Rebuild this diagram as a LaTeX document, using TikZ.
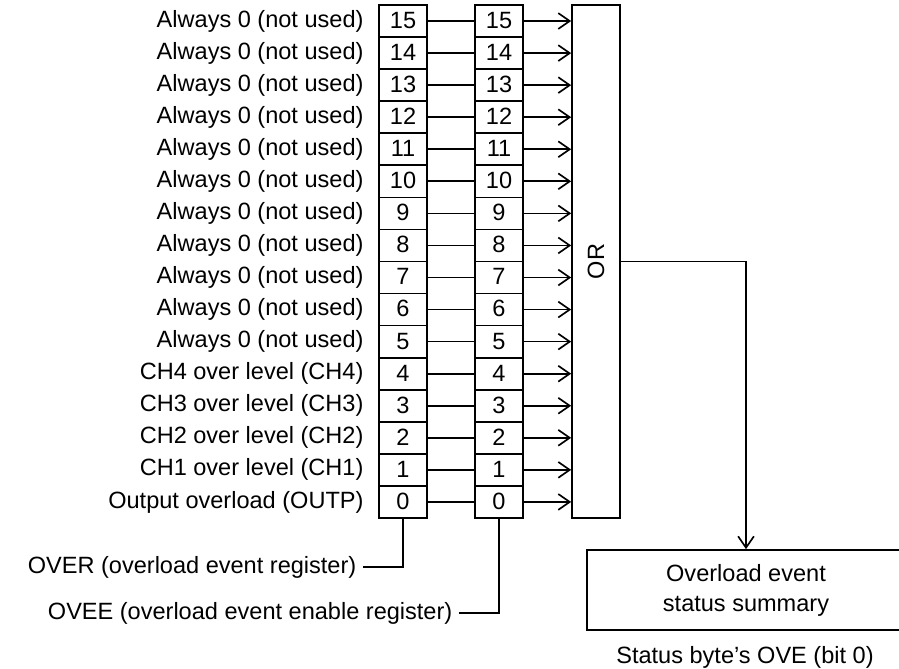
\documentclass[tikz,border=0pt]{standalone}
\usepackage{fontspec}
\setmainfont{Liberation Sans}
\usepackage{tikz}
\usetikzlibrary{arrows.meta,positioning}

\begin{document}
\begin{tikzpicture}[x=0.02cm,y=-0.02cm,line width=0.95pt,
  >={Straight Barb[length=6.5pt,width=9pt,line width=0.95pt]},
  every node/.style={font=\fontsize{13.4}{17}\selectfont},
  bitbox/.style={draw,minimum width=0.96cm,minimum height=0.6412cm,inner sep=0pt,text height=1.6ex,text depth=0pt},
  lbl/.style={anchor=east}]
\clip(0,0)rectangle(899,669);
\node[draw,minimum width=0.96cm,minimum height=10.26cm,label={[rotate=90]center:OR}](orbox)at(596,261.5){};
\foreach \i/\t in {15/Always 0 (not used),14/Always 0 (not used),13/Always 0 (not used),
  12/Always 0 (not used),11/Always 0 (not used),10/Always 0 (not used),9/Always 0 (not used),
  8/Always 0 (not used),7/Always 0 (not used),6/Always 0 (not used),5/Always 0 (not used),
  4/CH4 over level (CH4),3/CH3 over level (CH3),2/CH2 over level (CH2),1/CH1 over level (CH1),
  0/Output overload (OUTP)}{
  \node[bitbox](reg\i)at(403,{5+(15.5-\i)*32.06}){\i};
  \node[bitbox](en\i)at(499,{5+(15.5-\i)*32.06}){\i};
  \node[lbl,left=0.16cm of reg\i]{\t};
  \draw(reg\i.east)--(en\i.east-|en\i.west);
  \draw[->](en\i.east)--(en\i.east-|orbox.west);
}
\node[draw,minimum width=6.36cm,minimum height=1.6cm,align=center](summary)at(746,590){Overload event\\status summary};
\node(ove)at(745,657){Status byte’s OVE (bit 0)};
\draw[->](orbox.east)-|(summary.north);
\node[lbl](over)at(363,567){OVER (overload event register)};
\node[lbl](ovee)at(459,613){OVEE (overload event enable register)};
\draw(reg0.south)|-(over.east);
\draw(en0.south)|-(ovee.east);
\end{tikzpicture}
\end{document}
